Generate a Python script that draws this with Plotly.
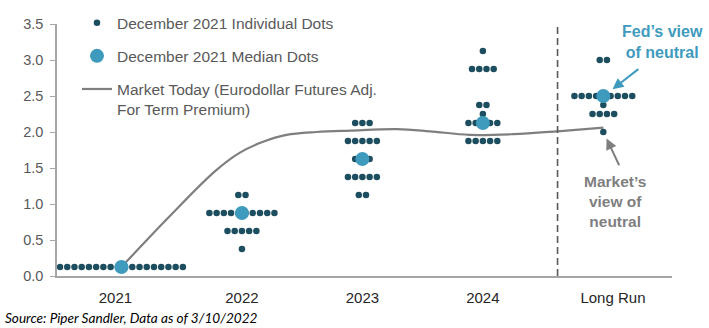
import plotly.graph_objects as go

# ---------------- data ----------------
categories = ["2021", "2022", "2023", "2024", "Long Run"]
cat_pos = [0, 1, 2, 3, 4]

levels_2021 = [0.125]
counts_2021 = [18]
levels_2022 = [0.375, 0.625, 0.875, 1.125]
counts_2022 = [1, 5, 10, 2]
levels_2023 = [1.125, 1.375, 1.625, 1.875, 2.125]
counts_2023 = [2, 5, 3, 5, 3]
levels_2024 = [1.875, 2.125, 2.25, 2.375, 2.875, 3.125]
counts_2024 = [5, 5, 1, 2, 4, 1]
levels_lr = [2.0, 2.25, 2.375, 2.5, 3.0]
counts_lr = [1, 4, 1, 9, 2]

medians = [0.125, 0.875, 1.625, 2.125, 2.5]

market_x = [0.0, 0.40, 0.78, 0.98, 1.17, 1.37, 1.62, 1.90, 2.29, 2.56, 2.89, 3.25, 3.62, 4.0]
market_y = [0.125, 0.83, 1.46, 1.71, 1.86, 1.96, 2.00, 2.02, 2.04, 2.01, 1.96, 1.97, 2.01, 2.06]

y_ticks = [0.0, 0.5, 1.0, 1.5, 2.0, 2.5, 3.0, 3.5]

# ---------------- styling ----------------
DOT = "#1d4e5f"
MED = "#3f9bbd"
GRAY_LINE = "#7f7f7f"
TXT = "#595959"
FONT = "Liberation Sans, Arial"
step = 0.06  # horizontal spacing between stacked dots (category units)
label_shift = [-0.05, 0, 0, 0, 0.08]  # small offsets of the category labels

dot_x, dot_y = [], []
for pos, levels, counts in zip(
    cat_pos,
    [levels_2021, levels_2022, levels_2023, levels_2024, levels_lr],
    [counts_2021, counts_2022, counts_2023, counts_2024, counts_lr],
):
    for lv, n in zip(levels, counts):
        for i in range(n):
            dot_x.append(pos + (i - (n - 1) / 2) * step)
            dot_y.append(lv)

fig = go.Figure()
fig.add_trace(go.Scatter(
    x=market_x, y=market_y, mode="lines",
    line=dict(color=GRAY_LINE, width=2.2, shape="spline", smoothing=1.0),
    name="Market Today (Eurodollar Futures Adj.<br>For Term Premium)",
    legendgroup="c", legendrank=3,
))
fig.add_trace(go.Scatter(
    x=dot_x, y=dot_y, mode="markers",
    marker=dict(size=6.5, color=DOT),
    name="December 2021 Individual Dots", legendgroup="a", legendrank=1,
))
fig.add_trace(go.Scatter(
    x=cat_pos, y=medians, mode="markers",
    marker=dict(size=14, color=MED),
    name="December 2021 Median Dots", legendgroup="b", legendrank=2,
))

fig.add_shape(type="line", x0=3.62, x1=3.62, y0=0, y1=3.52, xref="x", yref="y",
              line=dict(color="#595959", width=1.6, dash="7px,4px"))

fig.add_annotation(x=4.076, y=2.593, ax=4.303, ay=2.89, xref="x", yref="y",
                   axref="x", ayref="y", text="", showarrow=True,
                   arrowhead=2, arrowsize=1.1, arrowwidth=2, arrowcolor=MED)
fig.add_annotation(x=4.027, y=1.91, ax=4.137, ay=1.517, xref="x", yref="y",
                   axref="x", ayref="y", text="", showarrow=True,
                   arrowhead=2, arrowsize=1.1, arrowwidth=2, arrowcolor=GRAY_LINE)
fig.add_annotation(x=4.49, y=3.25, xref="x", yref="y", showarrow=False,
                   text="<b>Fed’s view<br>of neutral</b>",
                   font=dict(family=FONT, size=16, color=MED))
fig.add_annotation(x=4.10, y=1.04, xref="x", yref="y", showarrow=False,
                   text="<b>Market’s<br>view of<br>neutral</b>",
                   font=dict(family=FONT, size=15.5, color=GRAY_LINE))
fig.add_annotation(x=-0.088, y=-0.167, xref="paper", yref="paper", showarrow=False,
                   xanchor="left", yanchor="middle",
                   text="<i>Source: Piper Sandler, Data as of 3/10/2022</i>",
                   font=dict(family="Lato, Noto Sans", size=13.6, color="#000000"))

fig.update_layout(
    width=709, height=328,
    margin=dict(l=57, r=37, t=24, b=52, autoexpand=False),
    paper_bgcolor="white", plot_bgcolor="white",
    font=dict(family=FONT, size=14, color=TXT),
    showlegend=True,
    legend=dict(
        x=0.0325, y=1.071, xanchor="left", yanchor="top",
        bgcolor="rgba(0,0,0,0)", font=dict(family=FONT, size=15.5, color=TXT),
        itemsizing="trace", traceorder="grouped", tracegroupgap=10, valign="top",
    ),
    xaxis=dict(
        range=[-0.535, 4.57],
        tickvals=[p + s for p, s in zip(cat_pos, label_shift)], ticktext=categories,
        showgrid=False, zeroline=False, showline=True, linecolor="#a6a6a6", linewidth=1.5,
        ticks="", tickfont=dict(family=FONT, size=15, color="#262626"),
        ticklabelstandoff=7,
    ),
    yaxis=dict(
        range=[0, 3.5], tickvals=y_ticks, tickformat=".1f",
        showgrid=False, zeroline=False, showline=True, linecolor="#a6a6a6", linewidth=1.5,
        ticks="outside", ticklen=5, tickcolor="#a6a6a6",
        tickfont=dict(family=FONT, size=14.5, color=TXT), ticklabelstandoff=4,
    ),
)

fig.write_html("out.html")
